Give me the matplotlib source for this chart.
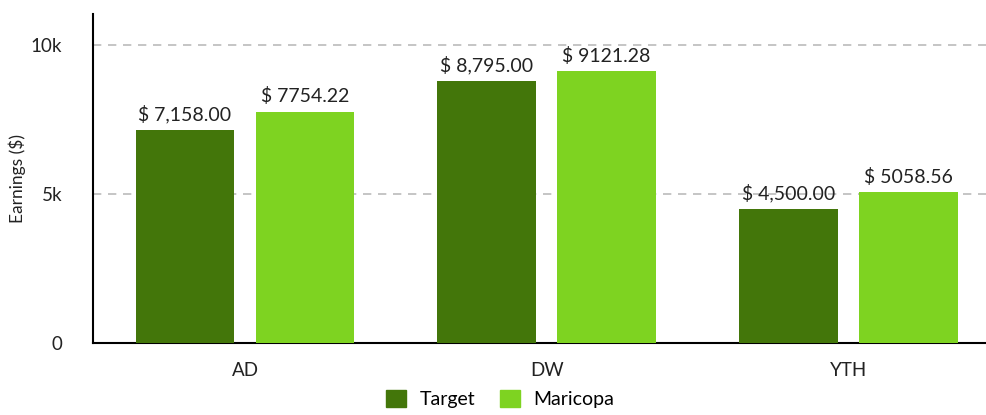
import matplotlib
matplotlib.use("Agg")
import matplotlib.pyplot as plt
import numpy as np
from matplotlib.patches import Patch

plt.rcParams['font.family'] = ['Lato', 'DejaVu Sans']

categories = ["AD", "DW", "YTH"]
target = [7158.00, 8795.00, 4500.00]
maricopa = [7754.22, 9121.28, 5058.56]
series_names = ["Target", "Maricopa"]
yticks = [0, 5000, 10000]
ytick_labels = ["0", "5k", "10k"]

c_target = "#43760A"
c_maricopa = "#7ED321"

fig = plt.figure(figsize=(9.87, 4.15), dpi=100)
ax = fig.add_axes([0.0942, 0.1735, 0.9058, 0.7925])

x = np.arange(len(categories))
w = 0.328
off = 0.199
b1 = ax.bar(x - off, target, w, color=c_target, zorder=3)
b2 = ax.bar(x + off, maricopa, w, color=c_maricopa, zorder=3)

for rect, v in zip(b1, target):
    ax.text(rect.get_x() + rect.get_width() / 2, v + 220, f"$ {v:,.2f}",
            ha="center", va="bottom", fontsize=14, color="#222222")
for rect, v in zip(b2, maricopa):
    ax.text(rect.get_x() + rect.get_width() / 2, v + 220, f"$ {v:.2f}",
            ha="center", va="bottom", fontsize=14, color="#222222")

ax.set_xlim(-0.504, 2.46)
ax.set_ylim(0, 11040)
ax.set_yticks(yticks)
ax.set_yticklabels(ytick_labels)
ax.set_xticks(x)
ax.set_xticklabels(categories)
ax.tick_params(axis="both", length=0, labelsize=13.5, colors="#222222")
ax.tick_params(axis="x", pad=14)
ax.tick_params(axis="y", pad=22)
ax.yaxis.grid(True, linestyle=(0, (5, 4)), color="#bbbbbb", linewidth=1.2, zorder=0)
ax.set_axisbelow(True)
for s in ["top", "right"]:
    ax.spines[s].set_visible(False)
ax.spines["left"].set_linewidth(1.5)
ax.spines["bottom"].set_linewidth(1.5)
fig.text(17 / 987, 1 - 178 / 415, "Earnings ($)", rotation=90, ha="center", va="center",
         fontsize=12.5, color="#222222")

handles = [Patch(color=c_target), Patch(color=c_maricopa)]
fig.legend(handles, series_names, loc="lower center", bbox_to_anchor=(0.507, -0.025),
           ncol=2, frameon=False, fontsize=14, handlelength=1.0, handleheight=1.0,
           columnspacing=1.3, handletextpad=0.7)

fig.savefig("out.png", dpi=100)
